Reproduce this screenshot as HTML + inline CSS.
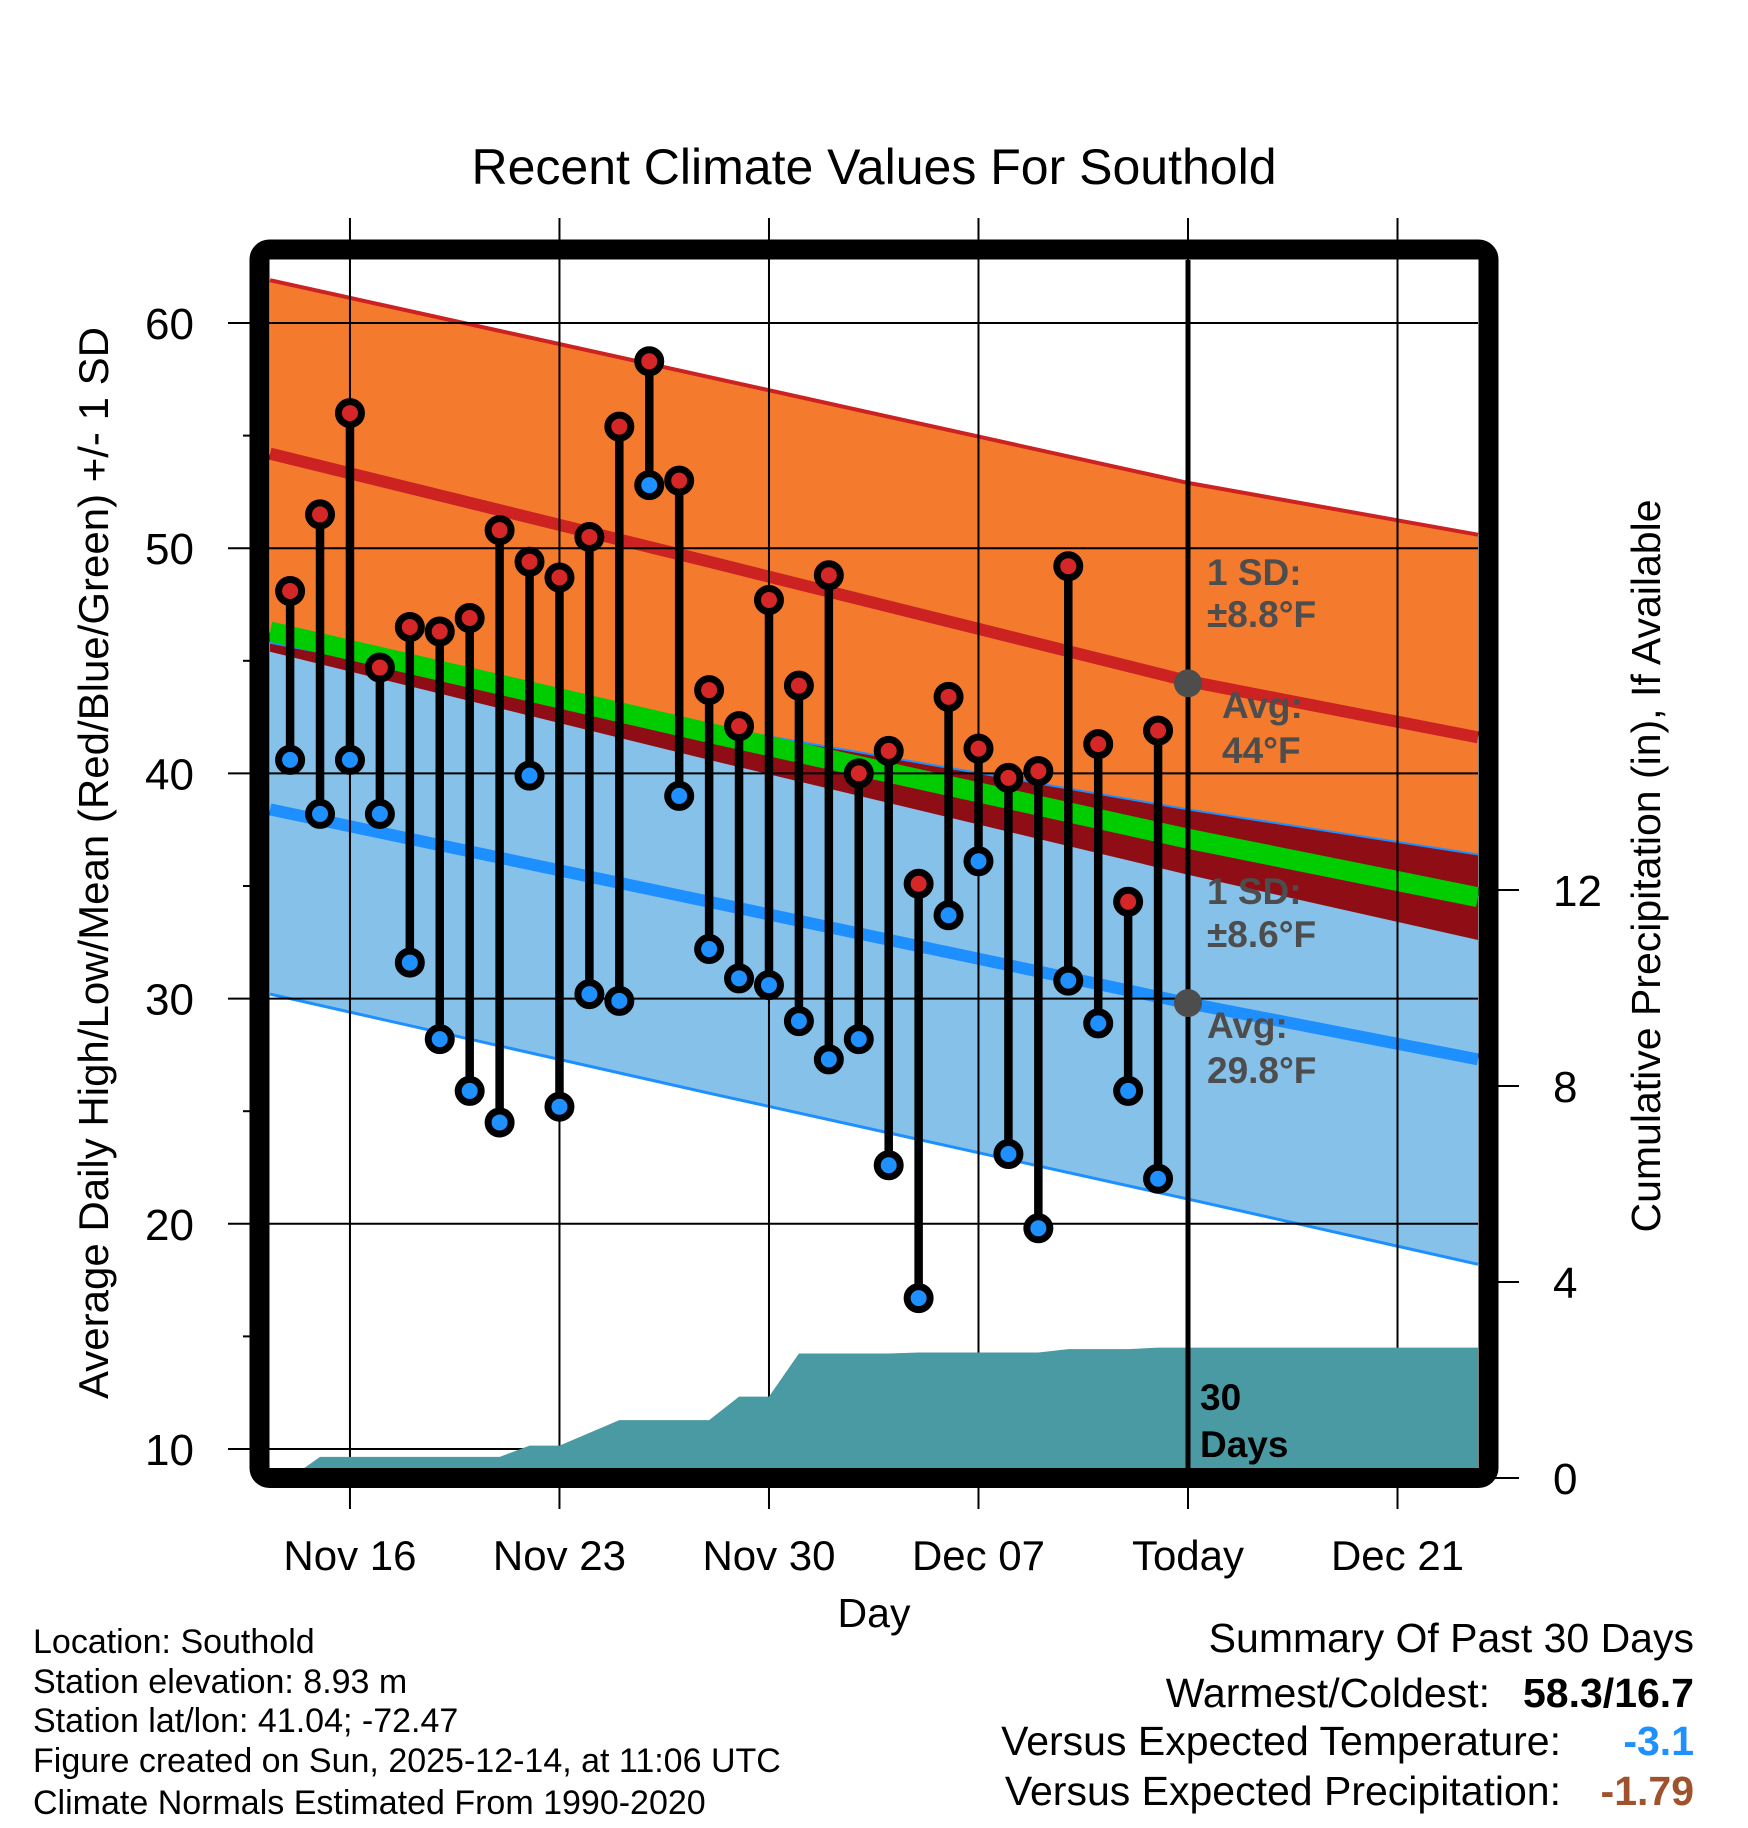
<!DOCTYPE html>
<html><head><meta charset="utf-8"><style>
html,body{margin:0;padding:0;background:#fff;}
svg{display:block;font-family:"Liberation Sans",sans-serif;}
</style></head><body>
<svg id="chart" width="1748" height="1828" viewBox="0 0 1748 1828" xmlns="http://www.w3.org/2000/svg">
<rect width="1748" height="1828" fill="#fff"/>
<g id="fills"></g>
<g id="grid"></g>
<g id="precip"></g>
<g id="todayg"></g>
<g id="labels" font-weight="bold" font-size="37" fill="#4d4d4d">
<text x="1207" y="585">1 SD:</text>
<text x="1207" y="627">±8.8°F</text>
<text x="1222" y="718">Avg:</text>
<text x="1222" y="763">44°F</text>
<text x="1207" y="904">1 SD:</text>
<text x="1207" y="947">±8.6°F</text>
<text x="1207" y="1038">Avg:</text>
<text x="1207" y="1083">29.8°F</text>
<text x="1200" y="1410" fill="#000">30</text>
<text x="1200" y="1457" fill="#000">Days</text>
</g>
<g id="marks"></g>
<rect x="259.5" y="249.5" width="1229" height="1228.5" rx="10" fill="none" stroke="#000" stroke-width="20"/>
<g id="axes" font-size="44"></g>
<text x="874" y="184" text-anchor="middle" font-size="50">Recent Climate Values For Southold</text>
<text x="874" y="1627" text-anchor="middle" font-size="41">Day</text>
<text transform="translate(108,863) rotate(-90)" text-anchor="middle" font-size="42">Average Daily High/Low/Mean (Red/Blue/Green) +/- 1 SD</text>
<text transform="translate(1660,866) rotate(-90)" text-anchor="middle" font-size="41">Cumulative Precipitation (in), If Available</text>
<g font-size="34">
<text x="33" y="1653">Location: Southold</text>
<text x="33" y="1693">Station elevation: 8.93 m</text>
<text x="33" y="1732">Station lat/lon: 41.04; -72.47</text>
<text x="33" y="1772">Figure created on Sun, 2025-12-14, at 11:06 UTC</text>
<text x="33" y="1814">Climate Normals Estimated From 1990-2020</text>
</g>
<g font-size="41">
<text x="1694" y="1652" text-anchor="end">Summary Of Past 30 Days</text>
<text x="1490" y="1707" text-anchor="end">Warmest/Coldest:</text>
<text x="1694" y="1707" text-anchor="end" font-weight="bold">58.3/16.7</text>
<text x="1561" y="1755" text-anchor="end">Versus Expected Temperature:</text>
<text x="1694" y="1755" text-anchor="end" font-weight="bold" fill="#1e90ff">-3.1</text>
<text x="1561" y="1805" text-anchor="end">Versus Expected Precipitation:</text>
<text x="1694" y="1805" text-anchor="end" font-weight="bold" fill="#a0522d">-1.79</text>
</g>
</svg>
<script>
// ---- data ----
const highs = [48.1,51.5,56.0,44.7,46.5,46.3,46.9,50.8,49.4,48.7,50.5,55.4,58.3,53.0,43.7,42.1,47.7,43.9,48.8,40.0,41.0,35.1,43.4,41.1,39.8,40.1,49.2,41.3,34.3,41.9];
const lows  = [40.6,38.2,40.6,38.2,31.6,28.2,25.9,24.5,39.9,25.2,30.2,29.9,52.8,39.0,32.2,30.9,30.6,29.0,27.3,28.2,22.6,16.7,33.7,36.1,23.1,19.8,30.8,28.9,25.9,22.0];
const precipCum = [0,0.43,0.43,0.43,0.43,0.43,0.43,0.43,0.66,0.66,0.92,1.18,1.18,1.18,1.18,1.66,1.66,2.54,2.54,2.54,2.54,2.56,2.56,2.56,2.56,2.56,2.63,2.63,2.63,2.66];
const normDays   = [-0.67,14,30,39.7];
const highUpper  = [61.9,57.6,52.9,50.6];
const highMean   = [54.2,49.4,44.1,41.6];
const highLower  = [45.4,40.6,35.5,32.6];
const meanTemp   = [46.3,41.8,37.1,34.5];
const lowUpper   = [45.8,42.1,38.4,36.4];
const lowMean    = [38.4,34.3,29.8,27.3];
const lowLower   = [30.2,25.8,21.1,18.2];
const xTickDays  = [2,9,16,23,30,37];
const xTickLabels= ["Nov 16","Nov 23","Nov 30","Dec 07","Today","Dec 21"];
const yTicks     = [10,20,30,40,50,60];
const pTicks     = [0,4,8,12];
const todayDay = 30;
// ---- scales ----
const X0=270,X1=1478,Y0=260,Y1=1468;
const xS=d=>290.1+d*29.93;
const yS=t=>323+(60-t)*22.52;
const pS=p=>1478-p*49;
const NS='http://www.w3.org/2000/svg';
function mk(tag,parent,attrs){const e=document.createElementNS(NS,tag);for(const k in attrs)e.setAttribute(k,attrs[k]);parent.appendChild(e);return e;}
const fills=document.getElementById('fills'),grid=document.getElementById('grid'),precip=document.getElementById('precip'),todayg=document.getElementById('todayg'),marks=document.getElementById('marks'),axes=document.getElementById('axes');
const pts=arr=>normDays.map((d,i)=>[Math.max(X0,Math.min(X1,xS(d))),yS(arr[i])]);
const line=arr=>pts(arr).map(p=>p.join(',')).join(' ');
function band(up,lo,color,name){
  const p=pts(up).concat(pts(lo).reverse());
  const e=mk('polygon',fills,{points:p.map(q=>q.join(',')).join(' '),fill:color});
  
  
}
band(highUpper,highLower,'#f47a2e','high-sd-band');
band(lowUpper,lowLower,'#85c1e8','low-sd-band');
band(lowUpper,highLower,'#8f0d15','overlap-band');
function pl(arr,color,w,name){
  const e=mk('polyline',fills,{points:line(arr),fill:'none',stroke:color,'stroke-width':w,'stroke-linejoin':'round'});
  
  
}
pl(lowUpper,'#1e8fff',2,'low-upper-line');
pl(meanTemp,'#00cc00',20,'mean-line');
pl(highUpper,'#cc2222',4,'high-upper-line');
pl(highMean,'#cc2222',12,'high-mean-line');
pl(lowMean,'#1e8fff',12,'low-mean-line');
pl(lowLower,'#1e8fff',3,'low-lower-line');
// grid
yTicks.forEach(t=>{
  const e=mk('line',grid,{x1:228,x2:X1,y1:yS(t),y2:yS(t),stroke:'#000','stroke-width':2});
  
  
});
xTickDays.forEach(d=>{
  const e=mk('line',grid,{x1:xS(d),x2:xS(d),y1:218,y2:1509,stroke:'#000','stroke-width':2});
  
  
});
// precip
{
  let p=[];
  precipCum.forEach((v,i)=>p.push([xS(i),pS(v)]));
  p.push([X1,pS(precipCum[precipCum.length-1])]);
  p.push([X1,Y1]);p.push([xS(0),Y1]);
  const e=mk('polygon',precip,{points:p.map(q=>q.join(',')).join(' '),fill:'#4a9aa3'});
  
  
  const c=mk('clipPath',precip,{id:'pc'});mk('rect',c,{x:X0,y:Y0,width:X1-X0,height:Y1-Y0});
  e.setAttribute('clip-path','url(#pc)');
}
// today
{
  const tx=xS(todayDay);
  const e=mk('line',todayg,{x1:tx,x2:tx,y1:Y0,y2:Y1,stroke:'#000','stroke-width':5});
  
  
  const i=normDays.indexOf(todayDay);
  const d1=mk('circle',todayg,{cx:tx,cy:yS(44.0),r:14,fill:'#4d4d4d'});
  
  
  const d2=mk('circle',todayg,{cx:tx,cy:yS(lowMean[i]),r:14,fill:'#4d4d4d'});
  
  
}
// daily marks
highs.forEach((h,i)=>{
  const x=xS(i);
  const s=mk('line',marks,{x1:x,x2:x,y1:yS(h),y2:yS(lows[i]),stroke:'#000','stroke-width':8.5});
  
  
  const a=mk('circle',marks,{cx:x,cy:yS(h),r:11.5,fill:'#d62728',stroke:'#000','stroke-width':7});
  
  
  const b=mk('circle',marks,{cx:x,cy:yS(lows[i]),r:11.5,fill:'#1e90ff',stroke:'#000','stroke-width':7});
  
  
});
// axes
yTicks.forEach(t=>{
  const e=mk('text',axes,{x:194,y:yS(t)+16,'text-anchor':'end'});e.textContent=t;
  
  
});
[15,25,35,45,55].forEach(t=>{
  const e=mk('line',axes,{x1:243,x2:250,y1:yS(t),y2:yS(t),stroke:'#000','stroke-width':2});
  
  
});
pTicks.forEach(p=>{
  const t=mk('line',axes,{x1:1490,x2:1519,y1:pS(p),y2:pS(p),stroke:'#000','stroke-width':2});
  
  
  const e=mk('text',axes,{x:1553,y:pS(p)+16});e.textContent=p;
  
  
});
xTickDays.forEach((d,i)=>{
  const e=mk('text',axes,{x:xS(d),y:1570,'text-anchor':'middle','font-size':42});e.textContent=xTickLabels[i];
  
  
});
</script>
</body></html>
